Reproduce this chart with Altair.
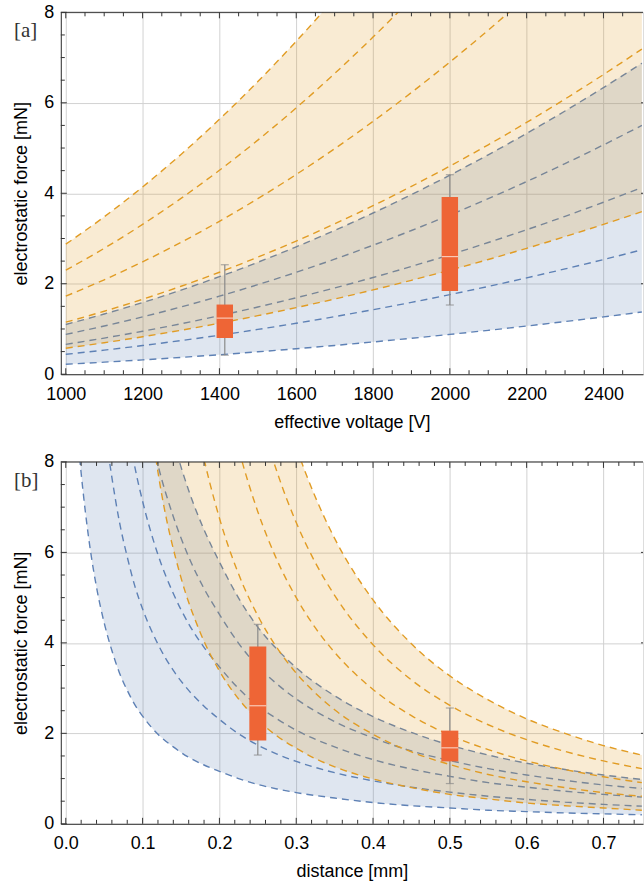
import altair as alt
import pandas as pd

# ---------------- panel [a]: force vs effective voltage ----------------
volt = [1000, 1100, 1200, 1300, 1400, 1500, 1600, 1700, 1800, 1900,
        2000, 2100, 2200, 2300, 2400, 2500]
a_blue_1 = [0.22, 0.266, 0.317, 0.372, 0.431, 0.495, 0.563, 0.636, 0.713, 0.794, 0.88, 0.970, 1.065, 1.164, 1.267, 1.375]
a_blue_2 = [0.44, 0.532, 0.634, 0.744, 0.862, 0.99, 1.126, 1.272, 1.426, 1.588, 1.76, 1.940, 2.130, 2.328, 2.534, 2.75]
a_blue_3 = [0.66, 0.799, 0.950, 1.115, 1.294, 1.485, 1.690, 1.907, 2.138, 2.383, 2.64, 2.911, 3.194, 3.491, 3.802, 4.125]
a_blue_4 = [0.88, 1.065, 1.267, 1.487, 1.725, 1.98, 2.253, 2.543, 2.851, 3.177, 3.52, 3.881, 4.259, 4.655, 5.069, 5.5]
a_blue_5 = [1.10, 1.331, 1.584, 1.859, 2.156, 2.475, 2.816, 3.179, 3.564, 3.971, 4.40, 4.851, 5.324, 5.819, 6.336, 6.875]
a_orange_1 = [0.575, 0.696, 0.828, 0.972, 1.127, 1.294, 1.472, 1.662, 1.863, 2.076, 2.30, 2.536, 2.783, 3.042, 3.312, 3.594]
a_orange_2 = [1.15, 1.392, 1.656, 1.944, 2.254, 2.588, 2.944, 3.324, 3.726, 4.152, 4.60, 5.072, 5.566, 6.084, 6.624, 7.188]
a_orange_3 = [1.725, 2.087, 2.484, 2.915, 3.381, 3.881, 4.416, 4.985, 5.589, 6.227, 6.90, 7.607, 8.349, 9.125, 9.936, 10.78]
a_orange_4 = [2.30, 2.783, 3.312, 3.887, 4.508, 5.175, 5.888, 6.647, 7.452, 8.303, 9.20, 10.14, 11.13, 12.17, 13.25, 14.38]
a_orange_5 = [2.875, 3.479, 4.14, 4.859, 5.635, 6.469, 7.36, 8.309, 9.315, 10.38, 11.5, 12.68, 13.92, 15.21, 16.56, 17.97]

a_box_x = [1414, 2000]
a_box_lo = [0.42, 1.53]
a_box_q1 = [0.80, 1.84]
a_box_med = [1.24, 2.60]
a_box_q3 = [1.54, 3.92]
a_box_hi = [2.42, 4.41]

# ---------------- panel [b]: force vs distance ----------------
dist_blue = [0.01, 0.02, 0.03, 0.04, 0.05, 0.06, 0.07, 0.08, 0.09, 0.10, 0.12, 0.14, 0.16, 0.18,
             0.20, 0.225, 0.25, 0.275, 0.30, 0.35, 0.40, 0.45, 0.50, 0.55, 0.60, 0.65, 0.70, 0.75]
b_blue_1 = [9.67, 7.75, 6.29, 5.23, 4.44, 3.83, 3.33, 2.95, 2.63, 2.38, 1.98, 1.70, 1.47, 1.30,
            1.16, 1.00, 0.87, 0.77, 0.69, 0.57, 0.47, 0.40, 0.35, 0.30, 0.27, 0.24, 0.22, 0.20]
b_blue_2 = [19.3, 15.5, 12.6, 10.5, 8.87, 7.66, 6.66, 5.90, 5.25, 4.75, 3.97, 3.39, 2.95, 2.60,
            2.31, 1.99, 1.74, 1.54, 1.38, 1.13, 0.95, 0.81, 0.70, 0.61, 0.54, 0.48, 0.43, 0.39]
b_blue_3 = [29.0, 23.3, 18.9, 15.7, 13.3, 11.5, 10.0, 8.85, 7.88, 7.13, 5.95, 5.09, 4.42, 3.90,
            3.47, 2.99, 2.61, 2.32, 2.07, 1.70, 1.42, 1.21, 1.05, 0.91, 0.81, 0.72, 0.65, 0.59]
b_blue_4 = [38.7, 31.0, 25.2, 20.9, 17.7, 15.3, 13.3, 11.8, 10.5, 9.50, 7.93, 6.79, 5.90, 5.20,
            4.63, 3.99, 3.48, 3.09, 2.76, 2.26, 1.90, 1.61, 1.40, 1.22, 1.08, 0.96, 0.86, 0.78]
b_blue_5 = [48.3, 38.8, 31.5, 26.1, 22.2, 19.1, 16.7, 14.7, 13.1, 11.9, 9.92, 8.48, 7.37, 6.50,
            5.79, 4.99, 4.35, 3.86, 3.45, 2.83, 2.37, 2.02, 1.74, 1.52, 1.34, 1.20, 1.08, 0.98]

dist_orange = [0.10, 0.125, 0.15, 0.175, 0.20, 0.225, 0.25, 0.275, 0.30, 0.325, 0.35,
               0.40, 0.45, 0.50, 0.55, 0.60, 0.65, 0.70, 0.75]
b_orange_1 = [10.19, 7.27, 5.44, 4.23, 3.38, 2.76, 2.30, 1.94, 1.67, 1.44, 1.26, 0.99, 0.80, 0.65, 0.55, 0.46, 0.40, 0.35, 0.30]
b_orange_2 = [20.4, 14.5, 10.9, 8.46, 6.76, 5.52, 4.60, 3.89, 3.33, 2.89, 2.52, 1.98, 1.59, 1.31, 1.09, 0.93, 0.80, 0.69, 0.61]
b_orange_3 = [30.6, 21.8, 16.3, 12.7, 10.1, 8.29, 6.90, 5.83, 5.00, 4.33, 3.79, 2.97, 2.39, 1.96, 1.64, 1.39, 1.20, 1.04, 0.91]
b_orange_4 = [40.8, 29.1, 21.8, 16.9, 13.5, 11.05, 9.20, 7.78, 6.66, 5.77, 5.05, 3.96, 3.18, 2.62, 2.19, 1.86, 1.60, 1.39, 1.22]
b_orange_5 = [50.9, 36.3, 27.2, 21.1, 16.9, 13.8, 11.5, 9.72, 8.33, 7.22, 6.31, 4.95, 3.98, 3.27, 2.74, 2.32, 2.00, 1.73, 1.52]

b_box_x = [0.25, 0.50]
b_box_lo = [1.52, 0.89]
b_box_q1 = [1.84, 1.38]
b_box_med = [2.61, 1.68]
b_box_q3 = [3.92, 2.06]
b_box_hi = [4.41, 2.56]

# axis tick values / labels
a_xlabels = [1000, 1200, 1400, 1600, 1800, 2000, 2200, 2400]
a_xminor = [v for v in range(1050, 2490, 50) if v % 200 != 0]
b_xlabels = [0.0, 0.1, 0.2, 0.3, 0.4, 0.5, 0.6, 0.7]
b_xminor = [round(0.02 * i, 2) for i in range(1, 38) if i % 5 != 0]
y_labels = [0, 2, 4, 6, 8]
y_minor = [0.5, 1, 1.5, 2.5, 3, 3.5, 4.5, 5, 5.5, 6.5, 7, 7.5]

# ---------------- style ----------------
FONT = "Liberation Sans"
BLUE = "#5E81B5"
ORANGE = "#E19C24"
BOXC = "#EE6536"
WHISK = "#8A8A8A"
GRID = "#D2D2D2"
FRAME = "#333333"
W, H = 584, 363
DASH = [7, 5]


def long_df(xs, series):
    rows = []
    for k, s in enumerate(series):
        for xv, yv in zip(xs, s):
            rows.append({"x": xv, "y": yv, "k": k})
    return pd.DataFrame(rows)


def panel(x_blue, blue, x_orange, orange, bx, blo, bq1, bmed, bq3, bhi,
          xdomain, xlabels, xminor, xfmt, xtitle, tag, boxw):
    xs = alt.Scale(domain=xdomain, nice=False, zero=False)
    ys = alt.Scale(domain=[0, 8], nice=False)
    xaxis = alt.Axis(values=xlabels, format=xfmt, title=xtitle, ticks=False, domain=True,
                     domainColor=FRAME, domainWidth=1,
                     grid=True, gridColor=GRID, gridWidth=1, labelFont=FONT, titleFont=FONT,
                     labelFontSize=18, titleFontSize=18, labelColor="black", titleColor="black",
                     titleFontWeight="normal", labelPadding=11, titlePadding=10,
                     labelFlush=False, labelOverlap=False)
    yaxis = alt.Axis(values=y_labels, format="d", title="electrostatic force [mN]", ticks=False,
                     domain=True, domainColor=FRAME, domainWidth=1,
                     grid=True, gridColor=GRID, gridWidth=1, labelFont=FONT,
                     titleFont=FONT, labelFontSize=18, titleFontSize=18, labelColor="black",
                     titleColor="black", titleFontWeight="normal", labelPadding=7,
                     titlePadding=13, labelFlush=False, labelOverlap=False)

    def X(f="x"):
        return alt.X(f"{f}:Q", scale=xs, axis=xaxis)

    def Y(f="y"):
        return alt.Y(f"{f}:Q", scale=ys, axis=yaxis)

    blue_area = pd.DataFrame({"x": x_blue, "y": blue[0], "y2": blue[-1]})
    orange_area = pd.DataFrame({"x": x_orange, "y": orange[0], "y2": orange[-1]})
    box = pd.DataFrame({"x": bx, "lo": blo, "q1": bq1, "med": bmed, "q3": bq3, "hi": bhi})

    layers = [
        alt.Chart(blue_area).mark_area(color=BLUE, opacity=0.2, clip=True, interpolate="monotone")
        .encode(x=X(), y=Y(), y2="y2:Q"),
        alt.Chart(long_df(x_blue, blue)).mark_line(color=BLUE, strokeDash=DASH, strokeWidth=1.4,
                                                   clip=True, interpolate="monotone")
        .encode(x=X(), y=Y(), detail="k:N"),
        alt.Chart(orange_area).mark_area(color=ORANGE, opacity=0.2, clip=True, interpolate="monotone")
        .encode(x=X(), y=Y(), y2="y2:Q"),
        alt.Chart(long_df(x_orange, orange)).mark_line(color=ORANGE, strokeDash=DASH, strokeWidth=1.4,
                                                       clip=True, interpolate="monotone")
        .encode(x=X(), y=Y(), detail="k:N"),
        alt.Chart(box).mark_rule(color=WHISK, strokeWidth=1.2).encode(x=X(), y=Y("lo"), y2="hi:Q"),
        alt.Chart(box).mark_tick(orient="horizontal", size=8, thickness=1.2, color=WHISK)
        .encode(x=X(), y=Y("lo")),
        alt.Chart(box).mark_tick(orient="horizontal", size=8, thickness=1.2, color=WHISK)
        .encode(x=X(), y=Y("hi")),
        alt.Chart(box).mark_bar(color=BOXC, size=boxw).encode(x=X(), y=Y("q1"), y2="q3:Q"),
        alt.Chart(box).mark_tick(orient="horizontal", size=boxw, thickness=1.2, color="#FFF2EC")
        .encode(x=X(), y=Y("med")),
        # top frame line
        alt.Chart(pd.DataFrame({"k": [0]})).mark_rule(color=FRAME, strokeWidth=1)
        .encode(x=alt.value(0), x2=alt.value(W), y=alt.value(0)),
    ]

    # frame ticks pointing inwards
    for vals, ln in ((xlabels, 6), (xminor, 4)):
        d = pd.DataFrame({"x": vals})
        layers.append(alt.Chart(d).mark_rule(color=FRAME, strokeWidth=1)
                      .encode(x=X(), y=alt.value(H), y2=alt.value(H - ln)))
        layers.append(alt.Chart(d).mark_rule(color=FRAME, strokeWidth=1)
                      .encode(x=X(), y=alt.value(0), y2=alt.value(ln)))
    for vals, ln in ((y_labels, 6), (y_minor, 4)):
        d = pd.DataFrame({"y": vals})
        layers.append(alt.Chart(d).mark_rule(color=FRAME, strokeWidth=1)
                      .encode(y=Y(), x=alt.value(0), x2=alt.value(ln)))
    # right frame sits just beyond the crop: only the tips of its major ticks show
    d = pd.DataFrame({"y": y_labels[1:-1]})
    layers.append(alt.Chart(d).mark_rule(color=FRAME, strokeWidth=1)
                  .encode(y=Y(), x=alt.value(W - 2), x2=alt.value(W)))

    layers.append(alt.Chart(pd.DataFrame({"t": [tag]})).mark_text(
        font="Liberation Serif", fontSize=21, align="left", baseline="top", color="#333333")
        .encode(x=alt.value(-47), y=alt.value(8), text="t:N"))

    return alt.layer(*layers).properties(width=W, height=H)


pa = panel(volt, [a_blue_1, a_blue_2, a_blue_3, a_blue_4, a_blue_5],
           volt, [a_orange_1, a_orange_2, a_orange_3, a_orange_4, a_orange_5],
           a_box_x, a_box_lo, a_box_q1, a_box_med, a_box_q3, a_box_hi,
           [1000, 2490], a_xlabels, a_xminor, "d", "effective voltage [V]", "[a]", 16.5)
pb = panel(dist_blue, [b_blue_1, b_blue_2, b_blue_3, b_blue_4, b_blue_5],
           dist_orange, [b_orange_1, b_orange_2, b_orange_3, b_orange_4, b_orange_5],
           b_box_x, b_box_lo, b_box_q1, b_box_med, b_box_q3, b_box_hi,
           [0, 0.745], b_xlabels, b_xminor, ".1f", "distance [mm]", "[b]", 17)

chart = alt.vconcat(pa, pb, spacing=20).properties(
    padding={"left": 12, "top": 1, "right": 0, "bottom": 0}
).configure_view(stroke=None).configure(background="white")

chart.save("out.html", embed_options={"renderer": "svg", "actions": False})
